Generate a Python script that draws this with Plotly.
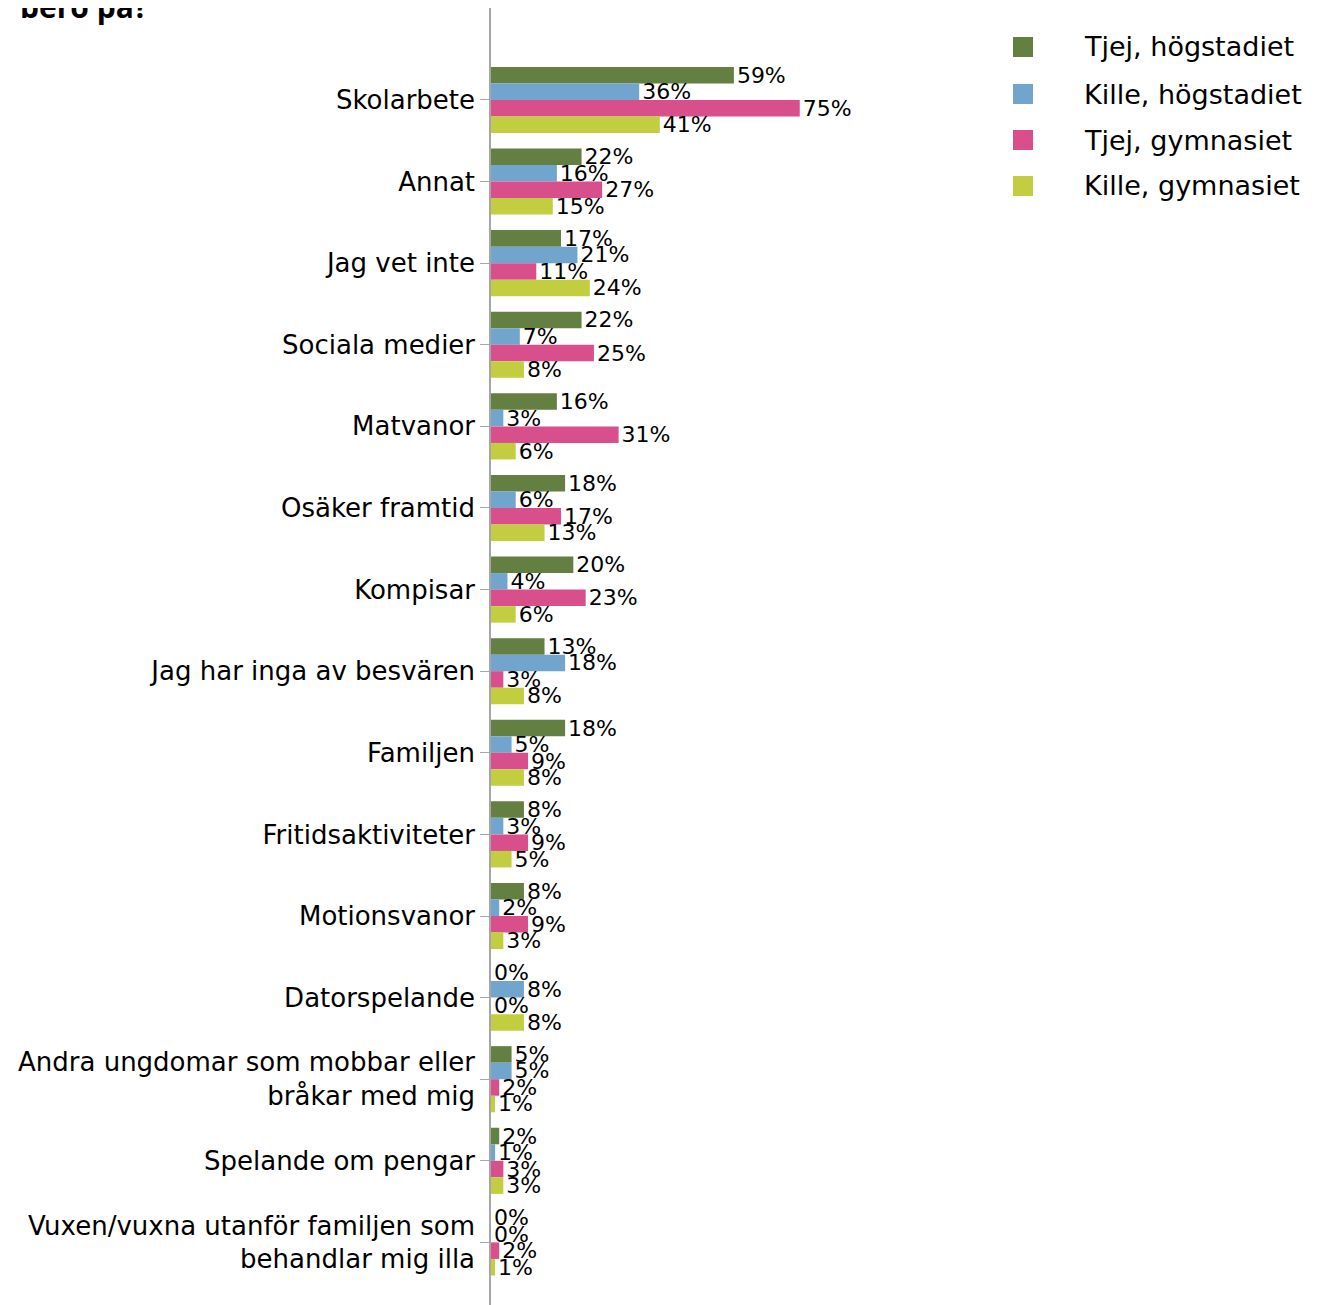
import plotly.graph_objects as go

CATEGORIES = [
    "Skolarbete",
    "Annat",
    "Jag vet inte",
    "Sociala medier",
    "Matvanor",
    "Osäker framtid",
    "Kompisar",
    "Jag har inga av besvären",
    "Familjen",
    "Fritidsaktiviteter",
    "Motionsvanor",
    "Datorspelande",
    "Andra ungdomar som mobbar eller<br>bråkar med mig",
    "Spelande om pengar",
    "Vuxen/vuxna utanför familjen som<br>behandlar mig illa",
]

SERIES = [
    "Tjej, högstadiet",
    "Kille, högstadiet",
    "Tjej, gymnasiet",
    "Kille, gymnasiet",
]

TJEJ_HOG = [59, 22, 17, 22, 16, 18, 20, 13, 18, 8, 8, 0, 5, 2, 0]
KILLE_HOG = [36, 16, 21, 7, 3, 6, 4, 18, 5, 3, 2, 8, 5, 1, 0]
TJEJ_GYM = [75, 27, 11, 25, 31, 17, 23, 3, 9, 9, 9, 0, 2, 3, 2]
KILLE_GYM = [41, 15, 24, 8, 6, 13, 6, 8, 8, 5, 3, 8, 1, 3, 1]

VALUES = [TJEJ_HOG, KILLE_HOG, TJEJ_GYM, KILLE_GYM]
COLORS = ["#647F42", "#72A5CD", "#D84F8C", "#C2CE40"]

FONT = "DejaVu Sans"
W, H = 1315, 1305
L, R, T, B = 483, 338, 0, 0
OFF = 8  # page body margin


def px_x(px):
    return (px - OFF - L) / (W - L - R)


def px_y(py):
    return 1 - (py - OFF - T) / (H - T - B)


fig = go.Figure()
for name, vals, color in zip(SERIES, VALUES, COLORS):
    fig.add_trace(
        go.Bar(
            y=CATEGORIES,
            x=vals,
            name=name,
            orientation="h",
            marker_color=color,
            marker_line_width=0,
            text=[f"{v}%" for v in vals],
            textposition="outside",
            textfont=dict(family=FONT, size=22, color="black"),
            constraintext="none",
            cliponaxis=False,
            showlegend=False,
        )
    )

fig.update_layout(
    width=W,
    height=H,
    margin=dict(l=L, r=R, t=T, b=B),
    plot_bgcolor="white",
    paper_bgcolor="white",
    barmode="group",
    bargap=0.19,
    bargroupgap=0,
    font=dict(family=FONT, color="black"),
    xaxis=dict(
        range=[0, 120],
        visible=False,
        showgrid=False,
        zeroline=False,
    ),
    yaxis=dict(
        categoryorder="array",
        categoryarray=CATEGORIES,
        range=[14.865, -1.127],
        showline=True,
        linecolor="#a6a6a6",
        linewidth=1.5,
        ticks="outside",
        ticklen=9,
        tickcolor="#a6a6a6",
        tickfont=dict(family=FONT, size=26, color="black"),
        showgrid=False,
        zeroline=False,
    ),
)

# Legend drawn by hand for large square swatches
legend_y = [47, 94, 140, 186]
for name, color, cy in zip(SERIES, COLORS, legend_y):
    fig.add_shape(
        type="rect",
        xref="paper",
        yref="paper",
        x0=px_x(1013),
        x1=px_x(1033),
        y0=px_y(cy - 10),
        y1=px_y(cy + 10),
        fillcolor=color,
        line_width=0,
    )
    fig.add_annotation(
        text=name,
        xref="paper",
        yref="paper",
        x=px_x(1082),
        y=px_y(cy),
        xanchor="left",
        yanchor="middle",
        showarrow=False,
        font=dict(family=FONT, size=27, color="black"),
    )

# Title, only last line visible at top edge
fig.add_annotation(
    text="<b>bero på?</b>",
    xref="paper",
    yref="paper",
    x=px_x(18),
    y=px_y(29),
    xanchor="left",
    yanchor="bottom",
    showarrow=False,
    font=dict(family="Open Sans", size=30, color="black"),
)

fig.write_html("out.html")
